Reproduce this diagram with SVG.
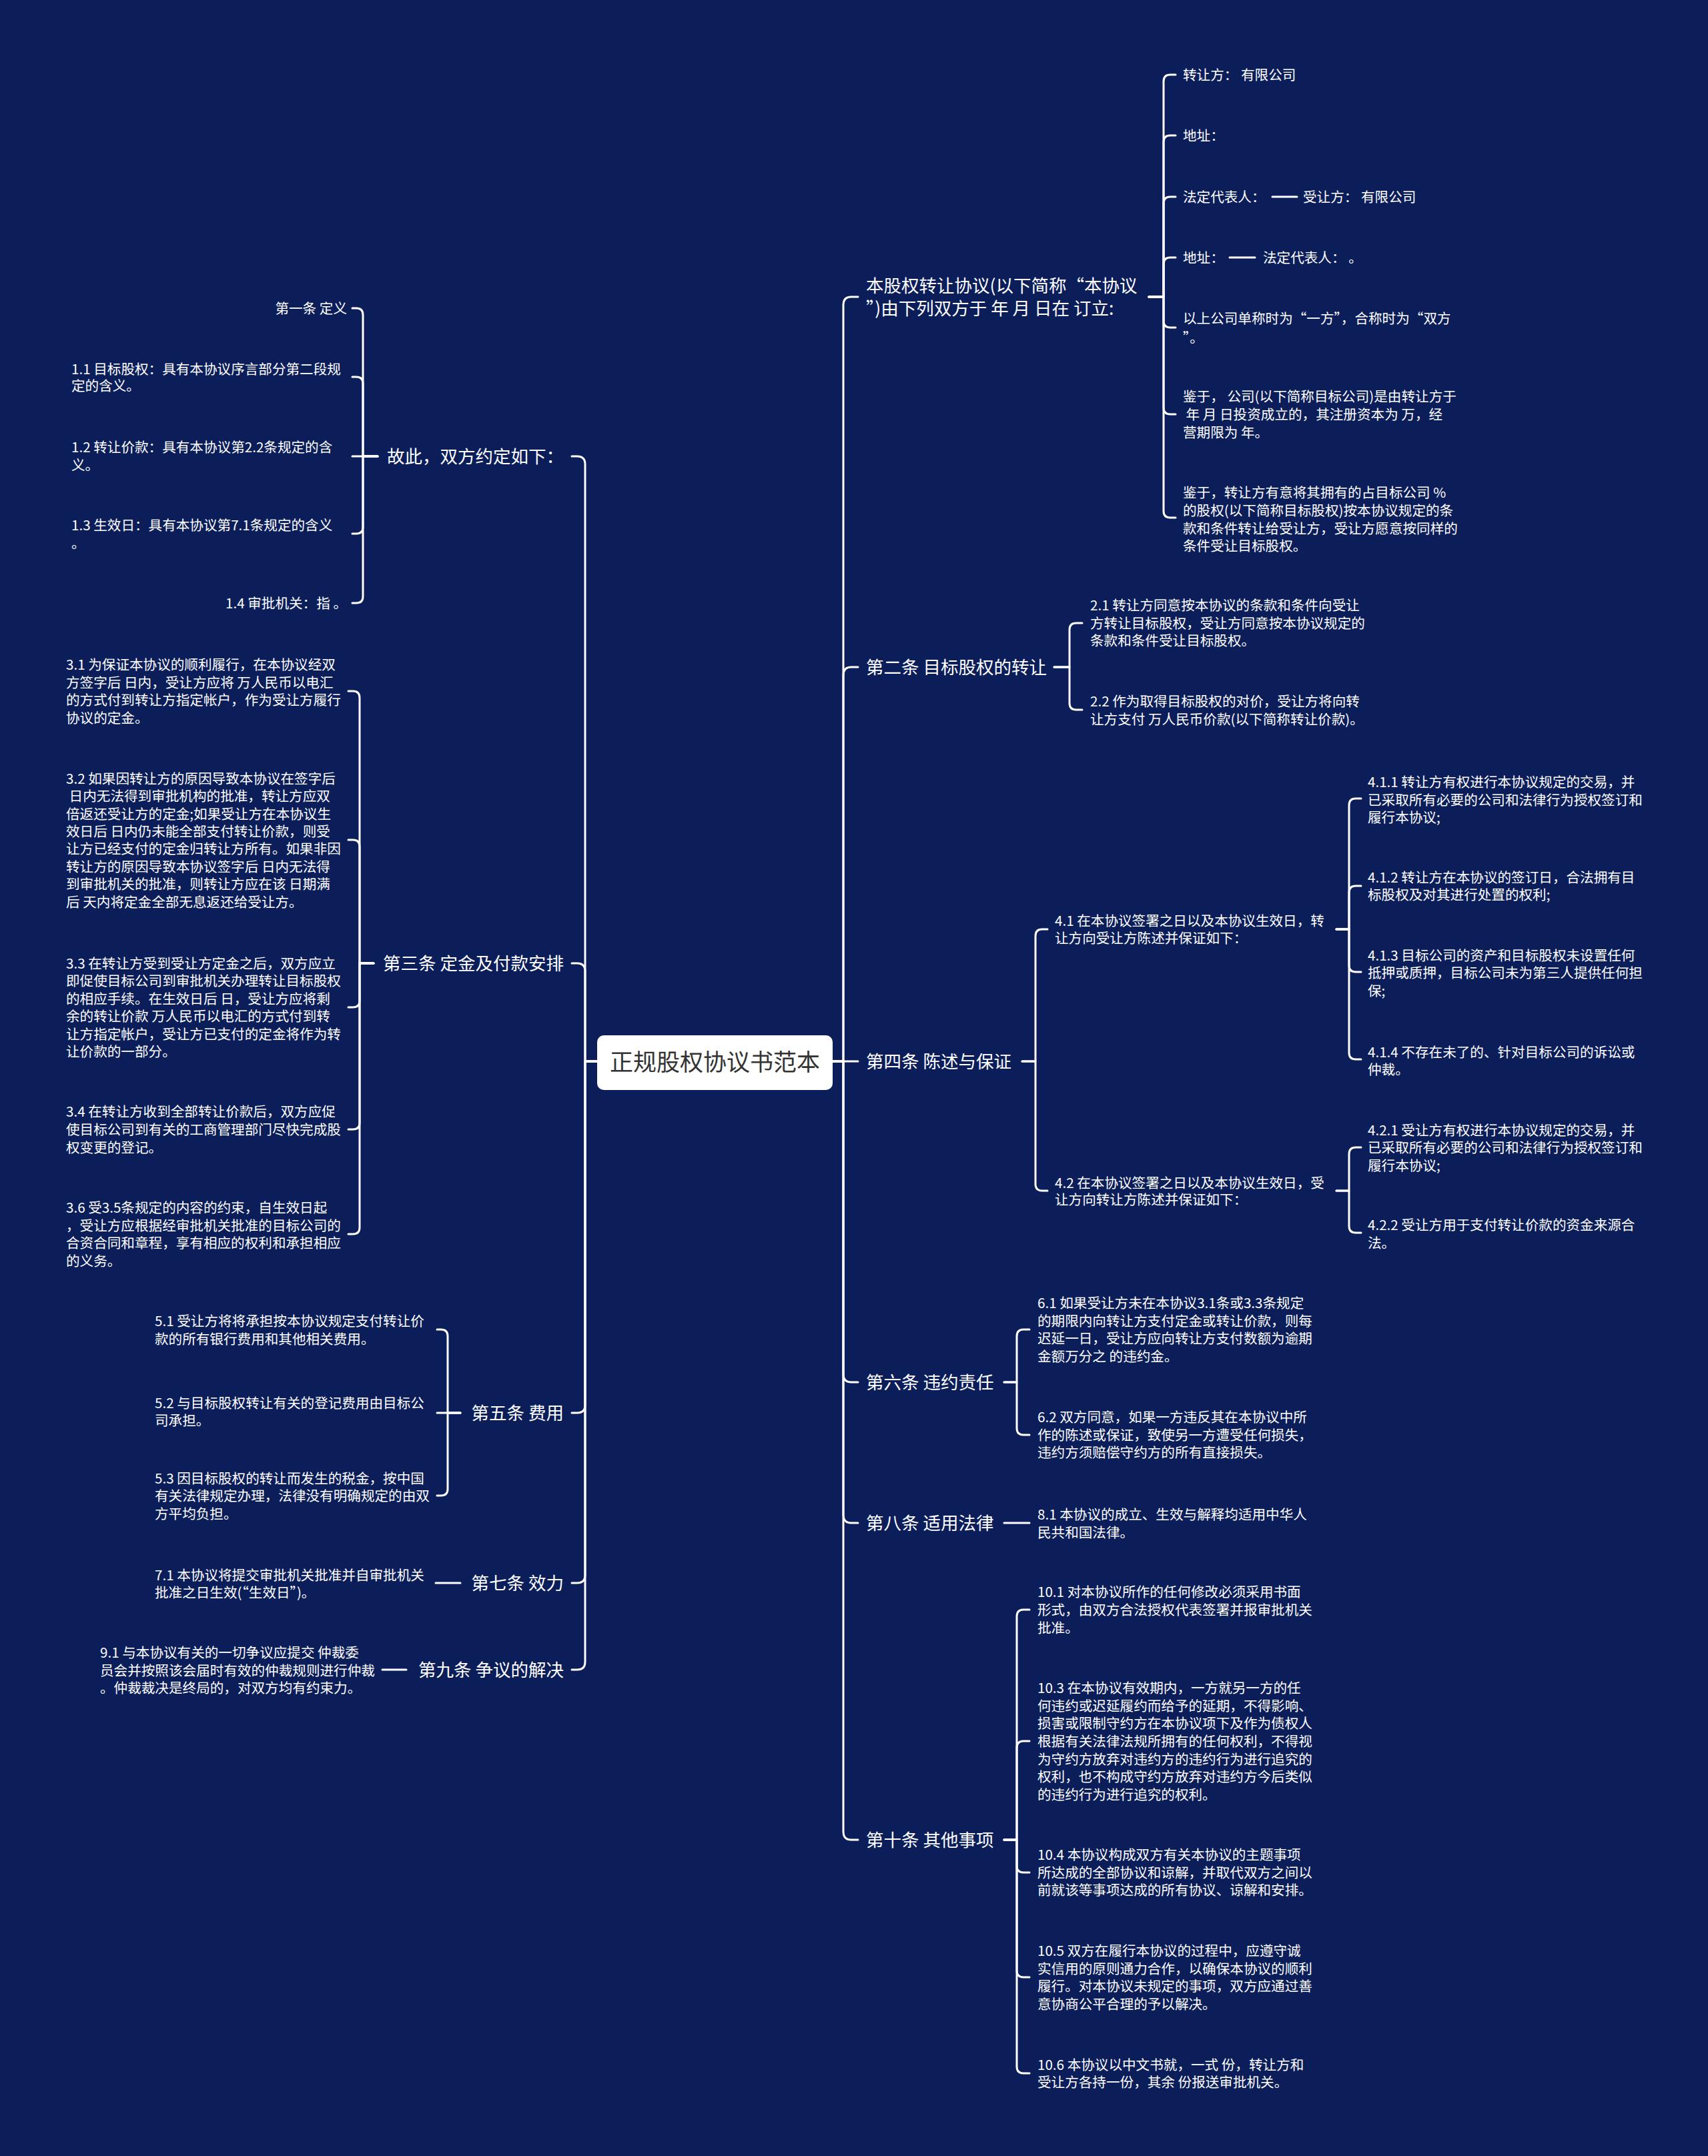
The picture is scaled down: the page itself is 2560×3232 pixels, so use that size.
<svg xmlns="http://www.w3.org/2000/svg" width="2560" height="3232" viewBox="0 0 2560 3232" xml:space="preserve">
<style>
text{font-family:"Noto Sans CJK SC","Microsoft YaHei","Noto Sans",sans-serif;fill:#ffffff}
.root{font-size:35px;fill:#333333}
.l1{font-size:26.5px}
.lf{font-size:20.6px}
.end{text-anchor:end}
.c path{fill:none;stroke:#ffffff;stroke-width:3;stroke-linecap:round;stroke-linejoin:round}
</style>
<rect width="2560" height="3232" fill="#0c1e5a"/>

<g class="c" id="connectors">
<path d="M1248 1591 H1264 V457 Q1264 445 1276 445 H1286"/>
<path d="M1248 1591 H1264 V1012 Q1264 1000 1276 1000 H1286"/>
<path d="M1248 1591 H1286"/>
<path d="M1248 1591 H1264 V2060 Q1264 2072 1276 2072 H1286"/>
<path d="M1248 1591 H1264 V2271 Q1264 2283 1276 2283 H1286"/>
<path d="M1248 1591 H1264 V2746 Q1264 2758 1276 2758 H1286"/>
<path d="M1722 445 H1744 V122 Q1744 112 1754 112 H1762"/>
<path d="M1722 445 H1744 V213 Q1744 203 1754 203 H1762"/>
<path d="M1722 445 H1744 V305 Q1744 295 1754 295 H1762"/>
<path d="M1722 445 H1744 V396 Q1744 386 1754 386 H1762"/>
<path d="M1722 445 H1744 V481 Q1744 491 1754 491 H1762"/>
<path d="M1722 445 H1744 V611 Q1744 621 1754 621 H1762"/>
<path d="M1722 445 H1744 V766 Q1744 776 1754 776 H1762"/>
<path d="M1907 295 H1944"/>
<path d="M1843 386 H1881"/>
<path d="M1580 1000 H1603 V944 Q1603 934 1613 934 H1622"/>
<path d="M1580 1000 H1603 V1054 Q1603 1064 1613 1064 H1622"/>
<path d="M1532 1591 H1552 V1403 Q1552 1393 1562 1393 H1570"/>
<path d="M1532 1591 H1552 V1775 Q1552 1785 1562 1785 H1570"/>
<path d="M2003 1393 H2022 V1207 Q2022 1197 2032 1197 H2040"/>
<path d="M2003 1393 H2022 V1338 Q2022 1328 2032 1328 H2040"/>
<path d="M2003 1393 H2022 V1447 Q2022 1457 2032 1457 H2040"/>
<path d="M2003 1393 H2022 V1578 Q2022 1588 2032 1588 H2040"/>
<path d="M2003 1785 H2022 V1730 Q2022 1720 2032 1720 H2040"/>
<path d="M2003 1785 H2022 V1838 Q2022 1848 2032 1848 H2040"/>
<path d="M1505 2072 H1524 V2003 Q1524 1993 1534 1993 H1543"/>
<path d="M1505 2072 H1524 V2141 Q1524 2151 1534 2151 H1543"/>
<path d="M1505 2283 H1543"/>
<path d="M1505 2758 H1524 V2423 Q1524 2413 1534 2413 H1543"/>
<path d="M1505 2758 H1524 V2620 Q1524 2610 1534 2610 H1543"/>
<path d="M1505 2758 H1524 V2797 Q1524 2807 1534 2807 H1543"/>
<path d="M1505 2758 H1524 V2954 Q1524 2964 1534 2964 H1543"/>
<path d="M1505 2758 H1524 V3098 Q1524 3108 1534 3108 H1543"/>
<path d="M895 1591 H877 V696 Q877 684 865 684 H857"/>
<path d="M895 1591 H877 V1456 Q877 1444 865 1444 H857"/>
<path d="M895 1591 H877 V2106 Q877 2118 865 2118 H857"/>
<path d="M895 1591 H877 V2361 Q877 2373 865 2373 H857"/>
<path d="M895 1591 H877 V2491 Q877 2503 865 2503 H857"/>
<path d="M566 684 H544 V472 Q544 462 534 462 H528"/>
<path d="M566 684 H544 V575 Q544 565 534 565 H528"/>
<path d="M566 684 H528"/>
<path d="M566 684 H544 V790 Q544 800 534 800 H528"/>
<path d="M566 684 H544 V894 Q544 904 534 904 H528"/>
<path d="M560 1444 H539 V1046 Q539 1036 529 1036 H522"/>
<path d="M560 1444 H539 V1269 Q539 1259 529 1259 H522"/>
<path d="M560 1444 H539 V1500 Q539 1510 529 1510 H522"/>
<path d="M560 1444 H539 V1683 Q539 1693 529 1693 H522"/>
<path d="M560 1444 H539 V1840 Q539 1850 529 1850 H522"/>
<path d="M690 2118 H671 V2003 Q671 1993 661 1993 H655"/>
<path d="M690 2118 H655"/>
<path d="M690 2118 H671 V2232 Q671 2242 661 2242 H655"/>
<path d="M690 2373 H653"/>
<path d="M609 2503 H573"/>
</g>

<g id="root">
<rect x="895" y="1552" width="353" height="82" rx="10" fill="#ffffff"/>
<text class="root" x="1071.5" y="1605" text-anchor="middle">正规股权协议书范本</text>
</g>

<g id="b1"><text class="l1" x="1298" y="438">本股权转让协议(以下简称“本协议<tspan x="1298" y="472">”)由下列双方于 年 月 日在 订立:</tspan></text></g>
<g id="b2"><text class="l1" x="1298" y="1010">第二条 目标股权的转让</text></g>
<g id="b4"><text class="l1" x="1298" y="1601">第四条 陈述与保证</text></g>
<g id="b6"><text class="l1" x="1298" y="2082">第六条 违约责任</text></g>
<g id="b8"><text class="l1" x="1298" y="2293">第八条 适用法律</text></g>
<g id="b10"><text class="l1" x="1298" y="2768">第十条 其他事项</text></g>

<g id="b1-1"><text class="lf" x="1773" y="120">转让方：  有限公司</text></g>
<g id="b1-2"><text class="lf" x="1773" y="211">地址：</text></g>
<g id="b1-3"><text class="lf" x="1773" y="303">法定代表人：</text></g>
<g id="b1-3-1"><text class="lf" x="1953" y="303">受让方：  有限公司</text></g>
<g id="b1-4"><text class="lf" x="1773" y="394">地址：</text></g>
<g id="b1-4-1"><text class="lf" x="1893" y="394">法定代表人： 。</text></g>
<g id="b1-5"><text class="lf" x="1773" y="485">以上公司单称时为“一方”，合称时为“双方<tspan x="1773" y="514">”。</tspan></text></g>
<g id="b1-6"><text class="lf" x="1773" y="602">鉴于， 公司(以下简称目标公司)是由转让方于<tspan x="1773" y="629"> 年 月 日投资成立的，其注册资本为 万，经</tspan><tspan x="1773" y="656">营期限为 年。</tspan></text></g>
<g id="b1-7"><text class="lf" x="1773" y="746">鉴于，转让方有意将其拥有的占目标公司 %<tspan x="1773" y="773">的股权(以下简称目标股权)按本协议规定的条</tspan><tspan x="1773" y="800">款和条件转让给受让方，受让方愿意按同样的</tspan><tspan x="1773" y="826">条件受让目标股权。</tspan></text></g>

<g id="n2-1"><text class="lf" x="1634" y="915">2.1 转让方同意按本协议的条款和条件向受让<tspan x="1634" y="942">方转让目标股权，受让方同意按本协议规定的</tspan><tspan x="1634" y="968">条款和条件受让目标股权。</tspan></text></g>
<g id="n2-2"><text class="lf" x="1634" y="1059">2.2 作为取得目标股权的对价，受让方将向转<tspan x="1634" y="1086">让方支付 万人民币价款(以下简称转让价款)。</tspan></text></g>

<g id="n4-1"><text class="lf" x="1581" y="1388">4.1 在本协议签署之日以及本协议生效日，转<tspan x="1581" y="1414">让方向受让方陈述并保证如下：</tspan></text></g>
<g id="n4-2"><text class="lf" x="1581" y="1781">4.2 在本协议签署之日以及本协议生效日，受<tspan x="1581" y="1806">让方向转让方陈述并保证如下：</tspan></text></g>
<g id="n4-1-1"><text class="lf" x="2050" y="1180">4.1.1 转让方有权进行本协议规定的交易，并<tspan x="2050" y="1207">已采取所有必要的公司和法律行为授权签订和</tspan><tspan x="2050" y="1233">履行本协议;</tspan></text></g>
<g id="n4-1-2"><text class="lf" x="2050" y="1323">4.1.2 转让方在本协议的签订日，合法拥有目<tspan x="2050" y="1349">标股权及对其进行处置的权利;</tspan></text></g>
<g id="n4-1-3"><text class="lf" x="2050" y="1440">4.1.3 目标公司的资产和目标股权未设置任何<tspan x="2050" y="1466">抵押或质押，目标公司未为第三人提供任何担</tspan><tspan x="2050" y="1493">保;</tspan></text></g>
<g id="n4-1-4"><text class="lf" x="2050" y="1585">4.1.4 不存在未了的、针对目标公司的诉讼或<tspan x="2050" y="1611">仲裁。</tspan></text></g>
<g id="n4-2-1"><text class="lf" x="2050" y="1702">4.2.1 受让方有权进行本协议规定的交易，并<tspan x="2050" y="1728">已采取所有必要的公司和法律行为授权签订和</tspan><tspan x="2050" y="1755">履行本协议;</tspan></text></g>
<g id="n4-2-2"><text class="lf" x="2050" y="1844">4.2.2 受让方用于支付转让价款的资金来源合<tspan x="2050" y="1871">法。</tspan></text></g>

<g id="n6-1"><text class="lf" x="1555" y="1961">6.1 如果受让方未在本协议3.1条或3.3条规定<tspan x="1555" y="1988">的期限内向转让方支付定金或转让价款，则每</tspan><tspan x="1555" y="2014">迟延一日，受让方应向转让方支付数额为逾期</tspan><tspan x="1555" y="2041">金额万分之 的违约金。</tspan></text></g>
<g id="n6-2"><text class="lf" x="1555" y="2132">6.2 双方同意，如果一方违反其在本协议中所<tspan x="1555" y="2159">作的陈述或保证，致使另一方遭受任何损失，</tspan><tspan x="1555" y="2185">违约方须赔偿守约方的所有直接损失。</tspan></text></g>
<g id="n8-1"><text class="lf" x="1555" y="2278">8.1 本协议的成立、生效与解释均适用中华人<tspan x="1555" y="2305">民共和国法律。</tspan></text></g>

<g id="n10-1"><text class="lf" x="1555" y="2394">10.1 对本协议所作的任何修改必须采用书面<tspan x="1555" y="2421">形式，由双方合法授权代表签署并报审批机关</tspan><tspan x="1555" y="2448">批准。</tspan></text></g>
<g id="n10-3"><text class="lf" x="1555" y="2538">10.3 在本协议有效期内，一方就另一方的任<tspan x="1555" y="2565">何违约或迟延履约而给予的延期，不得影响、</tspan><tspan x="1555" y="2591">损害或限制守约方在本协议项下及作为债权人</tspan><tspan x="1555" y="2618">根据有关法律法规所拥有的任何权利，不得视</tspan><tspan x="1555" y="2645">为守约方放弃对违约方的违约行为进行追究的</tspan><tspan x="1555" y="2671">权利，也不构成守约方放弃对违约方今后类似</tspan><tspan x="1555" y="2698">的违约行为进行追究的权利。</tspan></text></g>
<g id="n10-4"><text class="lf" x="1555" y="2788">10.4 本协议构成双方有关本协议的主题事项<tspan x="1555" y="2815">所达成的全部协议和谅解，并取代双方之间以</tspan><tspan x="1555" y="2841">前就该等事项达成的所有协议、谅解和安排。</tspan></text></g>
<g id="n10-5"><text class="lf" x="1555" y="2932">10.5 双方在履行本协议的过程中，应遵守诚<tspan x="1555" y="2959">实信用的原则通力合作，以确保本协议的顺利</tspan><tspan x="1555" y="2985">履行。对本协议未规定的事项，双方应通过善</tspan><tspan x="1555" y="3012">意协商公平合理的予以解决。</tspan></text></g>
<g id="n10-6"><text class="lf" x="1555" y="3103">10.6 本协议以中文书就，一式 份，转让方和<tspan x="1555" y="3129">受让方各持一份，其余 份报送审批机关。</tspan></text></g>

<g id="l1"><text class="l1 end" x="845" y="694">故此，双方约定如下：</text></g>
<g id="l3"><text class="l1 end" x="845" y="1454">第三条 定金及付款安排</text></g>
<g id="l5"><text class="l1 end" x="845" y="2128">第五条 费用</text></g>
<g id="l7"><text class="l1 end" x="845" y="2383">第七条 效力</text></g>
<g id="l9"><text class="l1 end" x="845" y="2513">第九条 争议的解决</text></g>

<g id="n1-0"><text class="lf end" x="520" y="470">第一条 定义</text></g>
<g id="n1-1"><text class="lf" x="107" y="561">1.1 目标股权：具有本协议序言部分第二段规<tspan x="107" y="586">定的含义。</tspan></text></g>
<g id="n1-2"><text class="lf" x="107" y="678">1.2 转让价款：具有本协议第2.2条规定的含<tspan x="107" y="705">义。</tspan></text></g>
<g id="n1-3"><text class="lf" x="107" y="795">1.3 生效日：具有本协议第7.1条规定的含义<tspan x="107" y="822">。</tspan></text></g>
<g id="n1-4"><text class="lf end" x="520" y="912">1.4 审批机关：指 。</text></g>

<g id="n3-1"><text class="lf" x="99" y="1004">3.1 为保证本协议的顺利履行，在本协议经双<tspan x="99" y="1031">方签字后 日内，受让方应将 万人民币以电汇</tspan><tspan x="99" y="1057">的方式付到转让方指定帐户，作为受让方履行</tspan><tspan x="99" y="1084">协议的定金。</tspan></text></g>
<g id="n3-2"><text class="lf" x="99" y="1175">3.2 如果因转让方的原因导致本协议在签字后<tspan x="99" y="1201"> 日内无法得到审批机构的批准，转让方应双</tspan><tspan x="99" y="1228">倍返还受让方的定金;如果受让方在本协议生</tspan><tspan x="99" y="1254">效日后 日内仍未能全部支付转让价款，则受</tspan><tspan x="99" y="1280">让方已经支付的定金归转让方所有。如果非因</tspan><tspan x="99" y="1307">转让方的原因导致本协议签字后 日内无法得</tspan><tspan x="99" y="1333">到审批机关的批准，则转让方应在该 日期满</tspan><tspan x="99" y="1360">后 天内将定金全部无息返还给受让方。</tspan></text></g>
<g id="n3-3"><text class="lf" x="99" y="1452">3.3 在转让方受到受让方定金之后，双方应立<tspan x="99" y="1478">即促使目标公司到审批机关办理转让目标股权</tspan><tspan x="99" y="1505">的相应手续。在生效日后 日，受让方应将剩</tspan><tspan x="99" y="1531">余的转让价款 万人民币以电汇的方式付到转</tspan><tspan x="99" y="1558">让方指定帐户，受让方已支付的定金将作为转</tspan><tspan x="99" y="1584">让价款的一部分。</tspan></text></g>
<g id="n3-4"><text class="lf" x="99" y="1674">3.4 在转让方收到全部转让价款后，双方应促<tspan x="99" y="1701">使目标公司到有关的工商管理部门尽快完成股</tspan><tspan x="99" y="1728">权变更的登记。</tspan></text></g>
<g id="n3-6"><text class="lf" x="99" y="1818">3.6 受3.5条规定的内容的约束，自生效日起<tspan x="99" y="1845">，受让方应根据经审批机关批准的目标公司的</tspan><tspan x="99" y="1871">合资合同和章程，享有相应的权利和承担相应</tspan><tspan x="99" y="1898">的义务。</tspan></text></g>

<g id="n5-1"><text class="lf" x="232" y="1988">5.1 受让方将将承担按本协议规定支付转让价<tspan x="232" y="2015">款的所有银行费用和其他相关费用。</tspan></text></g>
<g id="n5-2"><text class="lf" x="232" y="2111">5.2 与目标股权转让有关的登记费用由目标公<tspan x="232" y="2137">司承担。</tspan></text></g>
<g id="n5-3"><text class="lf" x="232" y="2224">5.3 因目标股权的转让而发生的税金，按中国<tspan x="232" y="2250">有关法律规定办理，法律没有明确规定的由双</tspan><tspan x="232" y="2277">方平均负担。</tspan></text></g>
<g id="n7-1"><text class="lf" x="232" y="2369">7.1 本协议将提交审批机关批准并自审批机关<tspan x="232" y="2395">批准之日生效(“生效日”)。</tspan></text></g>
<g id="n9-1"><text class="lf" x="150" y="2485">9.1 与本协议有关的一切争议应提交 仲裁委<tspan x="150" y="2512">员会并按照该会届时有效的仲裁规则进行仲裁</tspan><tspan x="150" y="2538">。仲裁裁决是终局的，对双方均有约束力。</tspan></text></g>
</svg>
